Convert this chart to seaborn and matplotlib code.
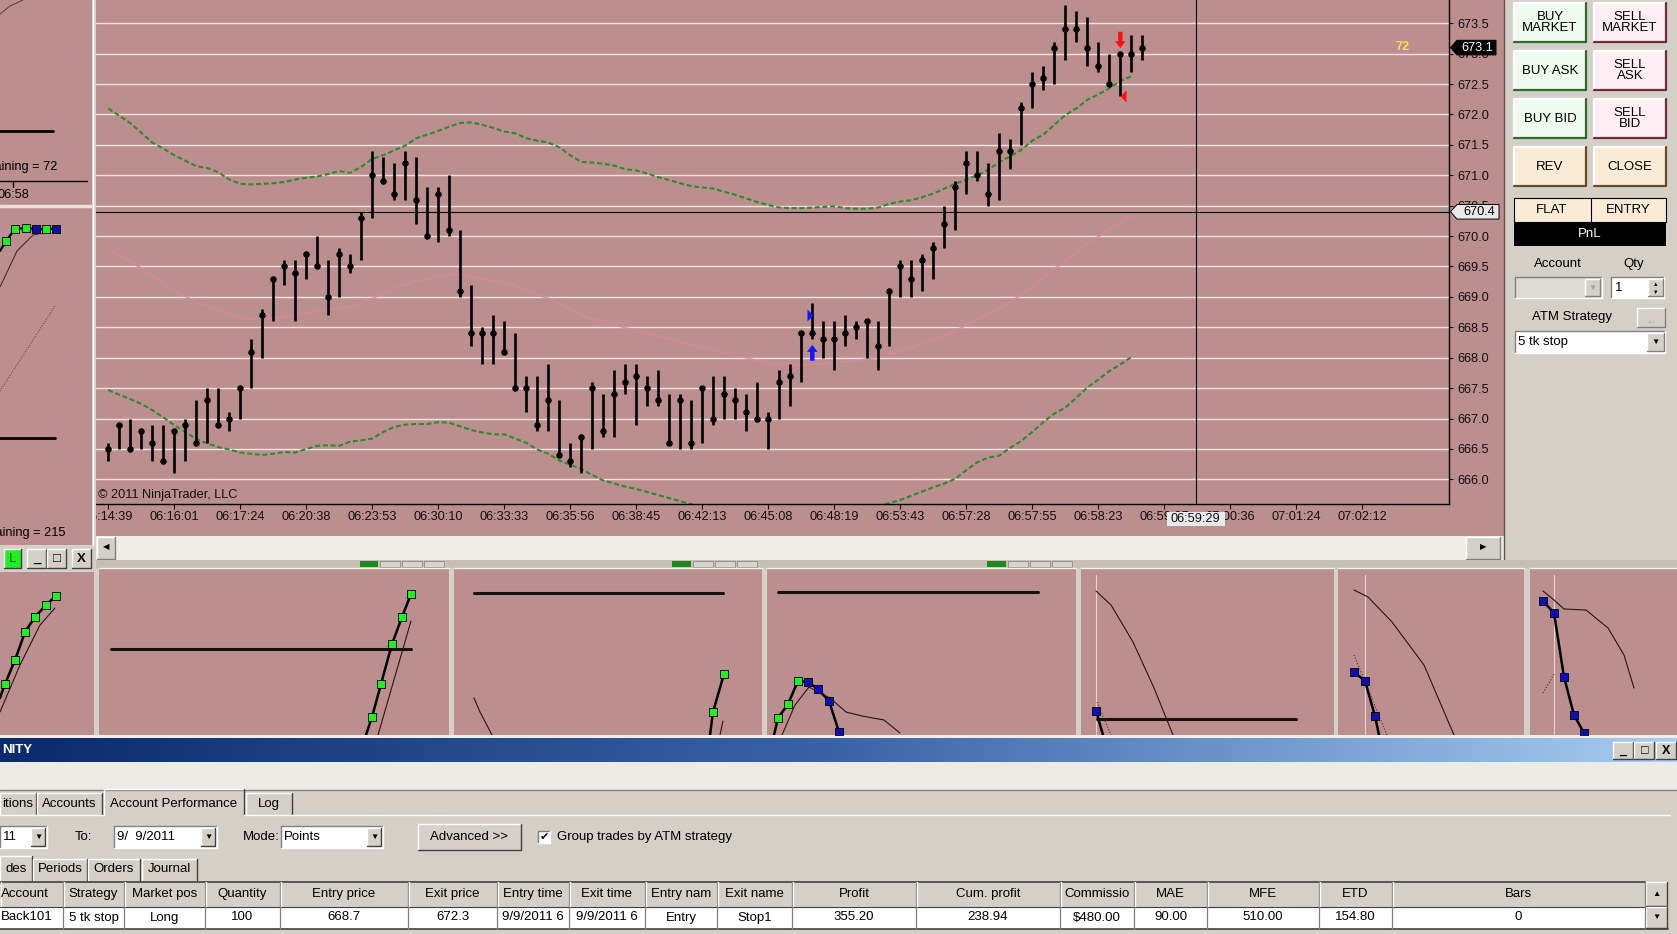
import numpy as np
import matplotlib
matplotlib.use("Agg")
import matplotlib.pyplot as plt
import matplotlib.patches as mpatches
from matplotlib.colors import LinearSegmentedColormap
import seaborn as sns

# ---- price bars (one bar per slot) ----
highs = [666.6, 666.9, 667.0, 666.8, 666.9, 666.9, 666.8, 667.0, 667.3, 667.5,
         667.5, 667.1, 667.5, 668.3, 668.8, 669.3, 669.6, 669.6, 669.7, 670.0,
         669.6, 669.8, 669.7, 670.4, 671.4, 671.3, 671.2, 671.4, 671.3, 670.8,
         670.8, 671.0, 670.1, 669.2, 668.5, 668.7, 668.6, 668.4, 667.7, 667.7,
         667.9, 667.3, 666.6, 666.7, 667.6, 667.4, 667.8, 667.9, 667.9, 667.7,
         667.8, 667.4, 667.4, 667.3, 667.5, 667.7, 667.7, 667.5, 667.4, 667.6,
         667.1, 667.8, 667.9, 668.4, 668.9, 668.6, 668.6, 668.7, 668.6, 668.6,
         668.6, 669.1, 669.6, 669.6, 669.7, 669.9, 670.5, 670.9, 671.4, 671.4,
         671.2, 671.7, 671.6, 672.2, 672.7, 672.8, 673.2, 673.8, 673.7, 673.6,
         673.2, 673.0, 673.0, 673.3, 673.3]
lows = [666.3, 666.5, 666.5, 666.5, 666.3, 666.3, 666.1, 666.3, 666.6, 666.6,
        666.9, 666.8, 667.0, 667.5, 668.0, 668.6, 669.2, 668.6, 669.3, 669.5,
        668.7, 669.0, 669.4, 669.6, 670.3, 670.9, 670.6, 670.6, 670.2, 670.0,
        669.9, 670.0, 669.0, 668.2, 667.9, 667.9, 668.1, 667.5, 667.1, 666.8,
        666.8, 666.4, 666.2, 666.1, 666.5, 666.7, 666.7, 667.4, 666.9, 667.2,
        667.2, 666.6, 666.5, 666.5, 666.6, 666.9, 667.0, 667.0, 666.8, 667.0,
        666.5, 667.0, 667.2, 667.6, 668.3, 668.0, 667.8, 668.2, 668.3, 668.0,
        667.8, 668.2, 669.0, 669.0, 669.1, 669.3, 669.8, 670.1, 670.7, 670.9,
        670.5, 670.6, 671.1, 671.5, 672.1, 672.4, 672.5, 672.9, 673.2, 672.8,
        672.7, 672.5, 672.3, 672.7, 672.9]
closes = [666.5, 666.9, 666.5, 666.8, 666.6, 666.3, 666.8, 666.9, 666.6, 667.3,
          666.9, 667.0, 667.5, 668.1, 668.7, 669.3, 669.5, 669.4, 669.7, 669.5,
          669.0, 669.7, 669.5, 670.3, 671.0, 670.9, 670.7, 671.2, 670.6, 670.0,
          670.7, 670.1, 669.1, 668.4, 668.4, 668.4, 668.1, 667.5, 667.5, 666.9,
          667.3, 666.4, 666.3, 666.7, 667.5, 666.8, 667.4, 667.6, 667.7, 667.5,
          667.3, 666.6, 667.3, 666.6, 667.5, 667.0, 667.4, 667.3, 667.1, 667.0,
          667.0, 667.6, 667.7, 668.4, 668.4, 668.3, 668.3, 668.4, 668.5, 668.6,
          668.2, 669.1, 669.5, 669.3, 669.6, 669.8, 670.2, 670.8, 671.2, 671.0,
          670.7, 671.4, 671.4, 672.1, 672.5, 672.6, 673.1, 673.4, 673.4, 673.1,
          672.8, 672.5, 673.0, 673.0, 673.1]

# ---- band indicator (upper / middle / lower), read per bar ----
upper_band = [672.10, 671.98, 671.86, 671.70, 671.54, 671.44, 671.33, 671.24, 671.15, 671.12,
              671.05, 670.93, 670.86, 670.85, 670.86, 670.87, 670.89, 670.93, 670.96, 670.98,
              671.02, 671.07, 671.04, 671.14, 671.27, 671.33, 671.41, 671.49, 671.61, 671.67,
              671.73, 671.80, 671.86, 671.87, 671.83, 671.78, 671.72, 671.69, 671.61, 671.57,
              671.54, 671.46, 671.33, 671.22, 671.21, 671.19, 671.16, 671.10, 671.08, 671.03,
              670.97, 670.92, 670.87, 670.82, 670.80, 670.78, 670.73, 670.68, 670.62, 670.56,
              670.51, 670.47, 670.46, 670.46, 670.47, 670.48, 670.49, 670.46, 670.45, 670.45,
              670.47, 670.53, 670.57, 670.59, 670.64, 670.70, 670.78, 670.86, 670.93, 671.00,
              671.09, 671.22, 671.31, 671.42, 671.57, 671.67, 671.83, 671.99, 672.10, 672.24,
              672.33, 672.43, 672.55, 672.63]
middle_band = [669.79, 669.69, 669.59, 669.47, 669.34, 669.23, 669.11, 669.01, 668.91, 668.86,
               668.79, 668.71, 668.65, 668.64, 668.63, 668.65, 668.67, 668.69, 668.73, 668.77,
               668.79, 668.81, 668.83, 668.89, 668.97, 669.06, 669.14, 669.20, 669.26, 669.29,
               669.34, 669.37, 669.37, 669.34, 669.30, 669.26, 669.23, 669.18, 669.11, 669.03,
               668.98, 668.89, 668.79, 668.70, 668.64, 668.59, 668.55, 668.49, 668.46, 668.41,
               668.36, 668.31, 668.26, 668.21, 668.17, 668.14, 668.09, 668.05, 668.00, 667.95,
               667.91, 667.89, 667.88, 667.88, 667.89, 667.90, 667.92, 667.93, 667.95, 667.98,
               668.01, 668.07, 668.12, 668.16, 668.22, 668.29, 668.36, 668.44, 668.54, 668.64,
               668.73, 668.81, 668.92, 669.03, 669.18, 669.31, 669.46, 669.59, 669.72, 669.88,
               669.99, 670.11, 670.22, 670.32]
lower_band = [667.47, 667.39, 667.32, 667.24, 667.14, 667.02, 666.89, 666.78, 666.66, 666.59,
              666.53, 666.49, 666.44, 666.42, 666.40, 666.42, 666.45, 666.44, 666.50, 666.55,
              666.56, 666.55, 666.62, 666.64, 666.67, 666.78, 666.86, 666.90, 666.91, 666.91,
              666.94, 666.93, 666.87, 666.81, 666.77, 666.74, 666.74, 666.67, 666.60, 666.49,
              666.42, 666.31, 666.24, 666.17, 666.07, 665.98, 665.93, 665.88, 665.84, 665.79,
              665.74, 665.69, 665.64, 665.59, 665.54, 665.50, 665.45, 665.41, 665.37, 665.34,
              665.31, 665.30, 665.29, 665.29, 665.30, 665.32, 665.35, 665.40, 665.44, 665.50,
              665.55, 665.61, 665.66, 665.73, 665.80, 665.87, 665.93, 666.01, 666.15, 666.28,
              666.36, 666.39, 666.52, 666.63, 666.78, 666.94, 667.08, 667.18, 667.34, 667.51,
              667.64, 667.78, 667.89, 668.01]

time_labels = ["06:14:39", "06:16:01", "06:17:24", "06:20:38", "06:23:53", "06:30:10",
               "06:33:33", "06:35:56", "06:38:45", "06:42:13", "06:45:08", "06:48:19",
               "06:53:43", "06:57:28", "06:57:55", "06:58:23", "06:59:07", "07:00:36",
               "07:01:24", "07:02:12"]
price_ticks = [666.0, 666.5, 667.0, 667.5, 668.0, 668.5, 669.0, 669.5,
               670.0, 670.5, 671.0, 671.5, 672.0, 672.5, 673.0, 673.5]

entry_bar, entry_price = 64, 668.7
exit_bar, exit_price = 92, 672.3
last_price = 673.1
cross_bar, cross_price, cross_time = 98.85, 670.4, "06:59:29"
bars_remaining = 72

# ---- trade table / panel texts ----
table_headers = ["Account", "Strategy", "Market pos", "Quantity", "Entry price", "Exit price",
                 "Entry time", "Exit time", "Entry nam", "Exit name", "Profit", "Cum. profit",
                 "Commissio", "MAE", "MFE", "ETD", "Bars"]
table_row = ["Back101", "5 tk stop", "Long", "100", "668.7", "672.3", "9/9/2011 6",
             "9/9/2011 6", "Entry", "Stop1", "355.20", "238.94", "$480.00", "90.00",
             "510.00", "154.80", "0"]
col_edges = [0, 63, 124, 205, 280, 408, 497, 569, 645, 717, 792, 916, 1060, 1134,
             1207, 1319, 1392, 1645]
order_buttons = [("BUY\nMARKET", "SELL\nMARKET"), ("BUY ASK", "SELL\nASK"),
                 ("BUY BID", "SELL\nBID"), ("REV", "CLOSE")]

# mini chart strip (screen units of the strip)
strip_panels = [(0, 94), (99, 449), (454, 762), (767, 1076), (1081, 1334), (1338, 1524), (1530, 1677)]
strip_hlines = [(111, 411, 649), (474, 723, 593), (778, 1038, 592), (1097, 1296, 719)]
strip_thick = [
    ([0, 5, 15, 25, 35, 46, 56], [698, 684, 660, 632, 617, 605, 596]),
    ([366, 372, 381, 392, 402, 411], [735, 717, 684, 644, 617, 594]),
    ([710, 713, 724], [735, 712, 674]),
    ([774, 778, 788, 798, 808, 818, 829, 839], [735, 718, 704, 681, 682, 689, 701, 732]),
    ([1096, 1103], [711, 735]),
    ([1354, 1365, 1375, 1379], [672, 681, 716, 735]),
    ([1543, 1554, 1564, 1574, 1584], [601, 613, 677, 715, 733]),
]
strip_green = [([5, 15, 25, 35, 46, 56], [684, 660, 632, 617, 605, 596]),
               ([372, 381, 392, 402, 411], [717, 684, 644, 617, 594]),
               ([713, 724], [712, 674]),
               ([778, 788, 798], [718, 704, 681])]
strip_blue = [([808, 818, 829, 839], [682, 689, 701, 732]),
              ([1096], [711]),
              ([1354, 1365, 1375], [672, 681, 716]),
              ([1543, 1554, 1564, 1574, 1584], [601, 613, 677, 715, 733])]
strip_thin = [
    ([0, 20, 40, 55], [712, 665, 625, 608]),
    ([378, 411], [735, 621]),
    ([720, 723], [735, 721]),
    ([474, 480, 492], [698, 712, 735]),
    ([782, 795, 809, 818, 830, 846, 862, 884, 900], [735, 705, 687, 692, 698, 712, 716, 720, 733]),
    ([1096, 1111, 1133, 1154, 1173], [591, 605, 642, 688, 735]),
    ([1354, 1368, 1392, 1424, 1454], [590, 597, 622, 665, 735]),
    ([1543, 1554, 1564, 1586, 1608, 1624, 1634], [591, 600, 609, 610, 628, 655, 688]),
]
strip_dotted = [([1097, 1111], [702, 735]), ([1354, 1387], [655, 735]), ([1543, 1554], [693, 674])]
strip_guides = [1096, 1365, 1554]

# left side panel (screen units of the panel)
side_thick = ([0, 6, 15, 26, 36, 46, 56], [251, 241, 229, 228, 229, 229, 229])
side_dot_colors = ["#22ee22", "#22ee22", "#22ee22", "#1010a0", "#22ee22", "#1010a0"]
side_thin = ([0, 17, 33, 50], [287, 251, 235, 232])
side_dotted = ([0, 55], [391, 306])

# ---------------- drawing ----------------
sns.set_theme(style="white")
plt.rcParams["font.family"] = ["Liberation Sans", "DejaVu Sans"]

W, H = 1677, 934
ROSE = "#bc8f8f"
GREY = "#d4d0c8"
fig = plt.figure(figsize=(W / 100, H / 100), dpi=100)


def px_axes(x0, y0, x1, y1, z):
    return fig.add_axes([x0 / W, 1 - y1 / H, (x1 - x0) / W, (y1 - y0) / H], zorder=z)


def screen_axes(x0, y0, x1, y1, z):
    a = px_axes(x0, y0, x1, y1, z)
    a.set_xlim(x0, x1)
    a.set_ylim(y1, y0)
    a.axis("off")
    a.patch.set_alpha(0)
    return a


def rect(a, x0, y0, x1, y1, fc, ec="none", lw=0.0, z=1):
    a.add_patch(mpatches.Rectangle((x0, y0), x1 - x0, y1 - y0, facecolor=fc,
                                   edgecolor=ec, linewidth=lw, zorder=z))


def bevel(a, x0, y0, x1, y1, fc, dark="#808080", light="white", lw=1.0, z=1):
    rect(a, x0, y0, x1, y1, fc, z=z)
    a.plot([x0, x0, x1], [y1, y0, y0], color=light, lw=lw, zorder=z + 0.1)
    a.plot([x0, x1, x1], [y1, y1, y0], color=dark, lw=lw, zorder=z + 0.1)


def txt(a, x, y, s, ha="center", size=9, color="black", **kw):
    a.text(x, y, s, ha=ha, va="center", fontsize=size, color=color, **kw)


bg = screen_axes(0, 0, W, H, 0)
rect(bg, 0, 0, W, H, GREY)
rect(bg, 96, 0, 1504, 536, ROSE)
bg.plot([1504, 1504], [0, 562], color="#6b5050", lw=1)

# scroll bar under the chart
rect(bg, 96, 536, 1504, 560, "#eeede7")
bevel(bg, 97, 537, 115, 559, GREY)
bevel(bg, 1466, 537, 1500, 559, GREY)
txt(bg, 106, 548, "\u25c0", size=6)
txt(bg, 1483, 548, "\u25b6", size=6)

# order entry buttons
btn_cols = [(1514, 1586), (1594, 1666)]
btn_rows = [(3, 42), (51, 90), (99, 138), (147, 186)]
for r, (y0, y1) in enumerate(btn_rows):
    for c, (x0, x1) in enumerate(btn_cols):
        if r == 3:
            fc, dk = "#faebd7", "#6b4a2a"
        elif c == 0:
            fc, dk = "#effbef", "#2e6b2e"
        else:
            fc, dk = "#fdeef3", "#6b2e40"
        bevel(bg, x0, y0, x1, y1, fc, dark=dk, lw=1.6)
        txt(bg, (x0 + x1) / 2, (y0 + y1) / 2, order_buttons[r][c], size=9.5, linespacing=0.95)

rect(bg, 1514, 198, 1666, 221.5, "#faebd7", ec="black", lw=0.8)
bg.plot([1591, 1591], [198, 221.5], color="black", lw=0.8)
txt(bg, 1552, 210, "FLAT", size=9.5)
txt(bg, 1628, 210, "ENTRY", size=9.5)
rect(bg, 1514, 221.5, 1666, 246, "black")
txt(bg, 1590, 234, "PnL", size=9.5, color="white")
txt(bg, 1558, 264, "Account", size=9.5)
txt(bg, 1634, 264, "Qty", size=9.5)
bevel(bg, 1515, 277, 1602, 298, "#dcdad4", dark="white", light="#808080")
bevel(bg, 1585, 279, 1600, 296, GREY)
txt(bg, 1592, 288, "\u25bc", size=6, color="#a0a0a0")
bevel(bg, 1611, 277, 1664, 298, "white", dark="white", light="#808080")
txt(bg, 1615, 288, "1", ha="left", size=9.5)
bevel(bg, 1648, 279, 1663, 296, GREY)
txt(bg, 1655.5, 284, "\u25b2", size=4)
txt(bg, 1655.5, 292, "\u25bc", size=4)
txt(bg, 1572, 317, "ATM Strategy", size=9.5)
bevel(bg, 1637, 308, 1665, 327, GREY)
txt(bg, 1651, 320, "...", size=7, color="#808080")
bevel(bg, 1515, 331, 1665, 353, "white", dark="white", light="#808080")
txt(bg, 1518, 342, "5 tk stop", ha="left", size=9.5)
bevel(bg, 1647, 333, 1664, 351, GREY)
txt(bg, 1655.5, 342, "\u25bc", size=6)

# ---- bottom control-center window ----
rect(bg, 0, 735, W, 738, "#f0eee8")
grad = np.linspace(0, 1, 256).reshape(1, -1)
title_cmap = LinearSegmentedColormap.from_list("tb", ["#0c2a6e", "#3a64a8", "#a8ccf2"])
bg.imshow(grad, extent=(0, W, 762, 738), aspect="auto", cmap=title_cmap, zorder=1)
bg.set_xlim(0, W)
bg.set_ylim(H, 0)
txt(bg, 2, 750, "NITY", ha="left", size=9.5, color="white", fontweight="bold")
for i, g in enumerate(["_", "\u25a1", "X"]):
    x0 = 1613 + i * 21.3
    bevel(bg, x0, 742, x0 + 20, 759, GREY, dark="#404040", z=2)
    txt(bg, x0 + 10, 750.5, g, size=9, fontweight="bold", zorder=3)
rect(bg, 0, 762, W, 790, "#ebeae4")
bg.plot([0, W], [790, 790], color="#808080", lw=1)

tabs1 = [("itions", 0, 36), ("Accounts", 37, 102), ("Account Performance", 104, 244), ("Log", 246, 292)]
for name, x0, x1 in tabs1:
    top = 789 if name == "Account Performance" else 793
    bg.plot([x0, x0, x1], [815, top, top], color="white", lw=1)
    bg.plot([x1, x1], [top, 815], color="#404040", lw=1)
    txt(bg, (x0 + x1) / 2, 804, name, size=9.5)
bg.plot([0, 104], [815, 815], color="white", lw=1)
bg.plot([244, 1670], [815, 815], color="white", lw=1)

for x0, x1, label in [(0, 47, "11"), (114, 217, "9/  9/2011"), (281, 383, "Points")]:
    bevel(bg, x0, 826, x1, 848, "white", dark="white", light="#808080")
    txt(bg, x0 + 3, 837, label, ha="left", size=9.5)
    bevel(bg, x1 - 16, 828, x1 - 2, 846, GREY, dark="#404040")
    txt(bg, x1 - 9, 837, "\u25bc", size=6)
txt(bg, 83, 837, "To:", size=9.5)
txt(bg, 261, 837, "Mode:", size=9.5)
bevel(bg, 418, 824, 521, 850, GREY, dark="#404040")
txt(bg, 469.5, 837, "Advanced >>", size=9.5)
bevel(bg, 538, 831, 550, 843, "white", dark="white", light="#808080")
txt(bg, 544, 837, "\u2714", size=8, family=["DejaVu Sans"])
txt(bg, 557, 837, "Group trades by ATM strategy", ha="left", size=9.5)

tabs2 = [("des", 0, 32), ("Periods", 33, 87), ("Orders", 88, 140), ("Journal", 142, 197)]
for name, x0, x1 in tabs2:
    top = 856 if name == "des" else 859
    bg.plot([x0, x0, x1], [880, top, top], color="white", lw=1)
    bg.plot([x1, x1], [top, 880], color="#404040", lw=1)
    txt(bg, (x0 + x1) / 2, 869, name, size=9.5)

rect(bg, 0, 906.5, 1645, 928.5, "white")
bg.plot([0, 1645], [881.5, 881.5], color="#404040", lw=1.2)
bg.plot([0, 1668], [929, 929], color="#404040", lw=1.2)
bg.plot([0, 1645], [906.5, 906.5], color="#404040", lw=0.8)
for i, name in enumerate(table_headers):
    x0, x1 = col_edges[i], col_edges[i + 1]
    bg.plot([x0 + 1, x0 + 1], [882, 906], color="white", lw=1)
    bg.plot([x1, x1], [882, 928.5], color="#808080", lw=0.9)
    if i == 0:
        txt(bg, x0 + 1, 894, name, ha="left", size=9.5)
        txt(bg, x0 + 1, 917.5, table_row[i], ha="left", size=9.5)
    else:
        txt(bg, (x0 + x1) / 2, 894, name, size=9.5)
        txt(bg, (x0 + x1) / 2, 917.5, table_row[i], size=9.5)
bevel(bg, 1646, 882, 1667, 906, GREY, dark="#404040")
bevel(bg, 1646, 907, 1667, 928, GREY, dark="#404040")
txt(bg, 1656.5, 894, "\u25b2", size=6)
txt(bg, 1656.5, 917.5, "\u25bc", size=6)

# ---------------- main price chart ----------------
ax = px_axes(95.5, 0, 1449, 504.3, 1)
ax.set_facecolor(ROSE)
bars = np.arange(len(closes))
band_x = np.arange(len(upper_band))

sns.lineplot(x=band_x, y=middle_band, ax=ax, color="#d4889b", linewidth=1.4, alpha=0.8, zorder=2)
sns.lineplot(x=band_x, y=upper_band, ax=ax, color="#2f8a30", linewidth=1.5,
             linestyle=(0, (2.4, 1.3)), zorder=2)
sns.lineplot(x=band_x, y=lower_band, ax=ax, color="#2f8a30", linewidth=1.5,
             linestyle=(0, (2.4, 1.3)), zorder=2)
ax.vlines(bars, lows, highs, colors="black", linewidth=1.9, zorder=3)
sns.scatterplot(x=bars, y=closes, ax=ax, color="black", s=22, linewidth=0, zorder=4)

ax.axhline(cross_price, color="black", lw=0.8, zorder=3)
ax.axvline(cross_bar, color="black", lw=0.8, zorder=3)

# entry / exit execution marks
ax.annotate("", xy=(entry_bar, lows[entry_bar] - 0.09), xytext=(entry_bar, lows[entry_bar] - 0.35),
            arrowprops=dict(facecolor="#1414ff", edgecolor="none", width=3.2, headwidth=7.5,
                            headlength=5, shrink=0), zorder=5)
ax.scatter([entry_bar - 0.25], [entry_price], marker=[(-0.5, -1), (-0.5, 1), (0.5, 0)],
           s=75, color="#1414ff", linewidths=0, zorder=5)
ax.annotate("", xy=(exit_bar, highs[exit_bar] + 0.09), xytext=(exit_bar, highs[exit_bar] + 0.36),
            arrowprops=dict(facecolor="#ff1010", edgecolor="none", width=3.2, headwidth=7.5,
                            headlength=5, shrink=0), zorder=5)
ax.scatter([exit_bar + 0.28], [exit_price], marker=[(0.5, -1), (0.5, 1), (-0.5, 0)],
           s=75, color="#ff1010", linewidths=0, zorder=5)

ax.set_xlim(-1.16, 121.88)
ax.set_ylim(665.589, 673.883)
ax.set_xticks(np.arange(0, 6 * len(time_labels), 6))
ax.set_xticklabels(time_labels)
ax.set_yticks(price_ticks)
ax.set_yticklabels([f"{p:.1f}" for p in price_ticks])
ax.yaxis.tick_right()
ax.grid(axis="y", color="#f1e2e2", linewidth=1.0)
ax.grid(axis="x", visible=False)
ax.set_axisbelow(True)
for side_name in ["top", "left"]:
    ax.spines[side_name].set_visible(False)
for side_name in ["bottom", "right"]:
    ax.spines[side_name].set_color("black")
    ax.spines[side_name].set_linewidth(1.0)
ax.tick_params(axis="y", which="both", right=True, left=False, length=3, width=0.8,
               pad=2.8, labelsize=9.2, colors="#101010")
ax.tick_params(axis="x", bottom=True, length=3.8, width=0.8, pad=1.2, labelsize=9.2,
               colors="#101010")
ax.set_xlabel("")
ax.set_ylabel("")
ax.text(0.002, 0.006, "\u00a9 2011 NinjaTrader, LLC", transform=ax.transAxes, fontsize=9.2,
        va="bottom", ha="left", color="#101010")
ax.text(0.966, 0.907, str(bars_remaining), transform=ax.transAxes, fontsize=9.2,
        color="#f2e24a", fontweight="bold", ha="center", va="center")

# ---------------- foreground pieces (price flags, left panel) ----------------
fg = screen_axes(0, 0, W, H, 5)


def price_y(p):
    return H - ax.transData.transform((0, p))[1]


def bar_x(b):
    return ax.transData.transform((b, 0))[0]


for p, right, fc, tc in [(last_price, 1496, "black", "white"), (cross_price, 1499, "#e8e8e8", "black")]:
    y = price_y(p)
    fg.add_patch(mpatches.Polygon([(1450.5, y), (1457, y - 7.3), (right, y - 7.3), (right, y + 7.3),
                                   (1457, y + 7.3)], closed=True, facecolor=fc,
                                  edgecolor="black", linewidth=0.7, zorder=6))
    txt(fg, (1457 + right) / 2 + 1, y, f"{p:.1f}", size=9.2, color=tc, zorder=7)

cx = bar_x(cross_bar)
rect(fg, cx - 29, 512, cx + 29, 526, "#e9e9ec", z=6)
txt(fg, cx, 519, cross_time, size=9.2, zorder=7, color="#101010")

# left docked chart panel
side = screen_axes(0, 0, 96, 572, 4)
rect(side, 0, 0, 96, 572, ROSE, z=0)
side.plot([0, 10, 23], [14, 6, 0], color="#5a3c3c", lw=0.7)
side.plot([0, 53], [131, 131], color="black", lw=2)
txt(side, 57, 167, f"Bars remaining = {bars_remaining}", ha="right", size=9.2)
side.plot([0, 87], [181, 181], color="black", lw=1)
side.plot([13, 13], [181, 187], color="black", lw=1)
txt(side, 13, 195, "06:58", size=9.2)
side.plot([0, 92], [205.5, 205.5], color="#e8e0dc", lw=2.5)
side.plot(side_thin[0], side_thin[1], color="#4a2c2c", lw=0.8)
side.plot(side_dotted[0], side_dotted[1], color="#5a3c3c", lw=0.7, linestyle=":")
side.plot(side_thick[0], side_thick[1], color="black", lw=1.6)
side.scatter(side_thick[0][1:], side_thick[1][1:], c=side_dot_colors, marker="s", s=30,
             edgecolors="black", linewidths=0.6, zorder=3)
side.plot([0, 55], [437.5, 437.5], color="black", lw=2)
txt(side, 66, 533, "Bars remaining = 215", ha="right", size=9.2)
rect(side, 0, 545, 96, 572, GREY, z=2)
rect(side, 92, 0, 96, 572, GREY, z=2)
side.plot([93, 93], [0, 545], color="white", lw=1, zorder=3)
bevel(side, 4, 549, 21, 568, "#22ee22", dark="#404040", z=3)
txt(side, 12.5, 558.5, "L", size=9.5, color="#006000", zorder=4)
for x0, g in [(27, "_"), (47, "\u25a1"), (72, "X")]:
    bevel(side, x0, 549, x0 + 19, 568, GREY, dark="#404040", z=3)
    txt(side, x0 + 9.5, 558.5, g, size=9.5, fontweight="bold", zorder=4)

# bottom strip of small strategy charts
strip = screen_axes(0, 560, W, 735, 3)
rect(strip, 0, 560, W, 735, GREY)
rect(strip, 96, 560, W, 568, "#c4c0b8")
for x0, x1 in strip_panels:
    rect(strip, x0, 568, x1, 735, ROSE)
    strip.plot([x0, x1], [568, 568], color="#f4f0ee", lw=1)
for x0, x1 in [(360, 378), (672, 691), (987, 1006)]:
    rect(strip, x0, 561, x1, 567, "#1a8a1a")
    for k in range(3):
        rect(strip, x1 + 2 + k * 22, 561, x1 + 22 + k * 22, 567, "#d8d4cc", ec="#808080", lw=0.5)
for gx in strip_guides:
    strip.plot([gx, gx], [575, 735], color="#e6d2d2", lw=0.8)
for x0, x1, y in strip_hlines:
    strip.plot([x0, x1], [y, y], color="#1a1010", lw=2.2)
for xs, ys in strip_thin:
    strip.plot(xs, ys, color="#2a1414", lw=0.8)
for xs, ys in strip_dotted:
    strip.plot(xs, ys, color="#5a2c2c", lw=0.8, linestyle=":")
for xs, ys in strip_thick:
    strip.plot(xs, ys, color="black", lw=1.8)
for xs, ys in strip_green:
    strip.scatter(xs, ys, marker="s", s=30, color="#22ee22", edgecolors="black", linewidths=0.6, zorder=4)
for xs, ys in strip_blue:
    strip.scatter(xs, ys, marker="s", s=30, color="#1010b0", edgecolors="black", linewidths=0.6, zorder=4)
strip.set_xlim(0, W)
strip.set_ylim(735, 560)

fig.savefig("out.png", dpi=100)
